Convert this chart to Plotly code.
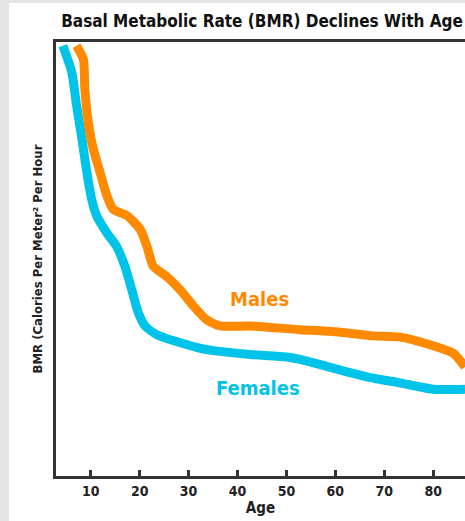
import plotly.graph_objects as go

# Age (years) and BMR (calories per m^2 per hour) for each sex
female_age = [4.3, 6.1, 7.1, 8.2, 9.2, 10.2, 11.2, 13.3, 15.3, 17.0, 18.4, 19.7, 21.1, 23.5,
              32.4, 36.4, 42.6, 50.1, 52.8, 59.5, 66.4, 73.3, 80.0, 86.5]
female_bmr = [54.7, 52.6, 49.9, 47.2, 44.5, 42.3, 41.0, 39.6, 38.5, 36.9, 35.0, 33.2, 32.1, 31.4,
              30.3, 30.05, 29.8, 29.6, 29.4, 28.7, 28.0, 27.5, 27.0, 27.0]

male_age = [7.1, 8.5, 8.8, 9.5, 10.5, 11.9, 13.3, 14.6, 17.4, 20.1, 21.5, 22.8, 25.5, 28.3,
            31.0, 33.7, 36.4, 42.6, 52.8, 61.0, 67.7, 73.3, 80.0, 84.1, 86.5]
male_bmr = [54.7, 53.6, 51.2, 48.5, 46.4, 44.5, 42.6, 41.5, 41.0, 39.9, 38.5, 36.9, 36.1, 35.0,
            33.7, 32.6, 32.1, 32.1, 31.8, 31.6, 31.3, 31.2, 30.5, 29.9, 28.8]

age_ticks = [10, 20, 30, 40, 50, 60, 70, 80]

ORANGE = "#ff8a00"
CYAN = "#00c3ea"
AXIS = "#333333"
FONT = "DejaVu Sans Condensed, Liberation Sans Narrow, Roboto, sans-serif"

fig = go.Figure()
fig.add_trace(go.Scatter(x=female_age, y=female_bmr, mode="lines",
                         line=dict(color=CYAN, width=9, shape="spline", smoothing=0.6),
                         name="Females", hoverinfo="x+y"))
fig.add_trace(go.Scatter(x=male_age, y=male_bmr, mode="lines",
                         line=dict(color=ORANGE, width=9, shape="spline", smoothing=0.6),
                         name="Males", hoverinfo="x+y"))

fig.add_annotation(x=44.4, y=34.3, text="Males", showarrow=False,
                   font=dict(family=FONT, size=20, color=ORANGE, weight="bold"))
fig.add_annotation(x=44.2, y=27.1, text="Females", showarrow=False,
                   font=dict(family=FONT, size=20, color=CYAN, weight="bold"))

# white card on a light grey page
fig.add_shape(type="rect", xref="paper", yref="paper", layer="below",
              x0=(9 - 56) / 409, x1=1.2, y0=-0.2, y1=(476 - 3) / 434,
              fillcolor="white", line=dict(width=0))

fig.update_layout(
    width=465, height=521,
    margin=dict(l=56, r=0, t=42, b=45),
    paper_bgcolor="#e3e4e6", plot_bgcolor="white",
    showlegend=False,
    title=dict(text="Basal Metabolic Rate (BMR) Declines With Age",
               x=262 / 465, xanchor="center", y=1 - 21 / 521, yanchor="middle",
               font=dict(family=FONT, size=17, color="#111111", weight="bold")),
    font=dict(family=FONT, color="#222222"),
)
fig.update_xaxes(range=[2.9, 86.5], tickvals=age_ticks, ticks="inside", ticklen=6, tickwidth=3,
                 tickcolor=AXIS, showline=True, linecolor=AXIS, linewidth=3, mirror=True,
                 showgrid=False, zeroline=False,
                 tickfont=dict(family=FONT, size=14, color="#222222", weight="bold"),
                 title=dict(text="Age", standoff=2,
                            font=dict(family=FONT, size=15, color="#222222", weight="bold")))
fig.update_yaxes(range=[20, 55], showticklabels=False, ticks="", showline=True, linecolor=AXIS,
                 linewidth=3, mirror=False, showgrid=False, zeroline=False,
                 title=dict(text="BMR (Calories Per Meter² Per Hour", standoff=8,
                            font=dict(family=FONT, size=13, color="#222222", weight="bold")))

fig.write_html("out.html")
